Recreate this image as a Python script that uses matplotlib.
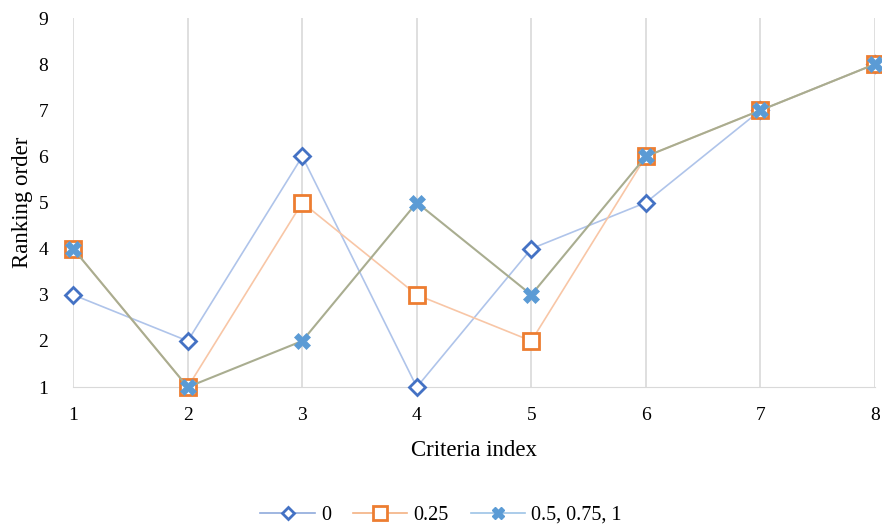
import matplotlib.pyplot as plt
from matplotlib.lines import Line2D

# Data
criteria = [1, 2, 3, 4, 5, 6, 7, 8]
rank_0 = [3, 2, 6, 1, 4, 5, 7, 8]
rank_025 = [4, 1, 5, 3, 2, 6, 7, 8]
rank_05 = [4, 1, 2, 5, 3, 6, 7, 8]
labels = ['0', '0.25', '0.5, 0.75, 1']

plt.rcParams['font.family'] = ['Liberation Serif', 'DejaVu Serif']

fig = plt.figure(figsize=(8.82, 5.31), dpi=100)
ax = fig.add_axes([0.083, 0.271, 0.909, 0.695])

ax.plot(criteria, rank_0, color='#AFC4EA', lw=1.2, marker='D', ms=8,
        mfc='white', mec='#4472C4', mew=2, zorder=3, clip_on=False)
ax.plot(criteria, rank_025, color='#F8C6A6', lw=1.2, marker='s', ms=11,
        mfc='white', mec='#ED7D31', mew=2, zorder=4, clip_on=False)
ax.plot(criteria, rank_05, color='#A9AD90', lw=1.5, marker='X', ms=11,
        mfc='#5B9BD5', mec='#5B9BD5', mew=0.5, zorder=5, clip_on=False)

ax.set_xlim(1, 8)
ax.set_ylim(1, 9)
ax.set_xticks(criteria)
ax.set_yticks(range(1, 10))
ax.grid(axis='x', color='#D9D9D9', lw=1.2)
ax.set_axisbelow(True)
for s in ['top', 'right', 'left']:
    ax.spines[s].set_visible(False)
ax.spines['bottom'].set_color('#D9D9D9')
ax.tick_params(length=0, labelsize=14)
ax.tick_params(axis='x', pad=14)
ax.tick_params(axis='y', pad=18)
ax.set_xlabel('Criteria index', fontsize=16.5, labelpad=12)
ax.set_ylabel('Ranking order', fontsize=16.5)
ax.yaxis.set_label_coords(-0.05, 0.5)

handles = [
    Line2D([], [], color='#8FAADC', lw=1.2, marker='D', ms=6, mfc='white', mec='#4472C4', mew=2),
    Line2D([], [], color='#F4B183', lw=1.2, marker='s', ms=10, mfc='white', mec='#ED7D31', mew=2),
    Line2D([], [], color='#9DC3E6', lw=1.2, marker='X', ms=9, mfc='#5B9BD5', mec='#5B9BD5'),
]
fig.legend(handles, labels, loc='center', bbox_to_anchor=(0.5, 0.03), ncol=3,
           frameon=False, fontsize=14.5, handlelength=2.7, columnspacing=1.1, handletextpad=0.3)

fig.savefig('out.png', dpi=100)
